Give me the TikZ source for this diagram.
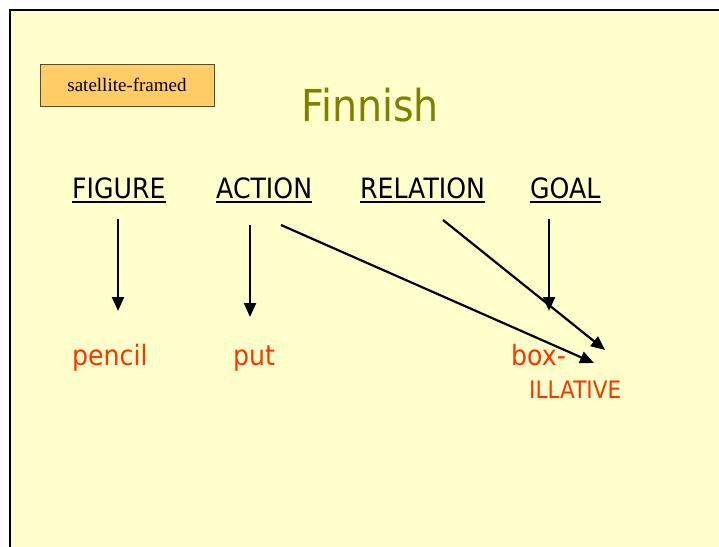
\documentclass[tikz,border=0pt]{standalone}
\usepackage{fontspec}
\setmainfont{Liberation Serif}
\newfontfamily\tah[FakeStretch=0.9]{DejaVu Sans}
\usetikzlibrary{arrows.meta}
\definecolor{bgyellow}{HTML}{FFFFCC}
\definecolor{boxorange}{HTML}{FFCC66}
\definecolor{olivetitle}{HTML}{808000}
\definecolor{redword}{HTML}{FF3300}
\begin{document}
\begin{tikzpicture}[x=1pt,y=-1pt,
  lab/.style={inner sep=0pt,anchor=base west,font=\tah\fontsize{28}{32}\selectfont,text=black},
  word/.style={inner sep=0pt,anchor=base west,font=\tah\fontsize{28}{32}\selectfont,text=redword},
  uline/.style={line width=1.8pt},
  arr/.style={line width=2.2pt,-{Triangle[length=14pt,width=12pt]}}]
\useasboundingbox (0,0) rectangle (719,546);
\fill[white] (0,0) rectangle (719,546);
\fill[bgyellow] (10,10) rectangle (730,560);
\draw[line width=2.5pt] (10,560) -- (10,10) -- (730,10);
% frame box
\node[draw=black!70,fill=boxorange,line width=0.8pt,minimum width=174pt,minimum height=42pt,inner sep=0pt,
  font=\fontsize{19}{22}\selectfont] (sat) at (127,85) {satellite-framed};
% title
\node[inner sep=0pt,anchor=base,font=\tah\fontsize{44}{50}\selectfont,text=olivetitle] (title) at (370,121) {Finnish};
% labels
\node[lab] (fig) at (72,198) {FIGURE};
\node[lab] (act) at (216,198) {ACTION};
\node[lab] (rel) at (360,198) {RELATION};
\node[lab] (goal) at (530,198) {GOAL};
\foreach \n in {fig,act,rel,goal}
  \draw[uline] ([yshift=-4pt]\n.base west) -- ([yshift=-4pt]\n.base east);
% words
\node[word] (pencil) at (72,365) {pencil};
\node[word] (put) at (233,365) {put};
\node[word] (box) at (511,365) {box-};
\node[inner sep=0pt,anchor=base west,font=\tah\fontsize{24}{28}\selectfont,text=redword] (ill) at (529,398) {ILLATIVE};
% arrow endpoints
\coordinate (figS) at (118,219);
\coordinate (figE) at (118,311);
\coordinate (actS) at (250,225);
\coordinate (actE) at (250,317);
\coordinate (actD) at (281,225);
\coordinate (boxA) at (594,363);
\coordinate (relS) at (443,220);
\coordinate (boxB) at (605,350);
\coordinate (goalS) at (549,219);
\coordinate (goalE) at (549,311);
\draw[arr] (figS) -- (figE);
\draw[arr] (actS) -- (actE);
\draw[arr] (actD) -- (boxA);
\draw[arr] (relS) -- (boxB);
\draw[arr] (goalS) -- (goalE);
\end{tikzpicture}
\end{document}
